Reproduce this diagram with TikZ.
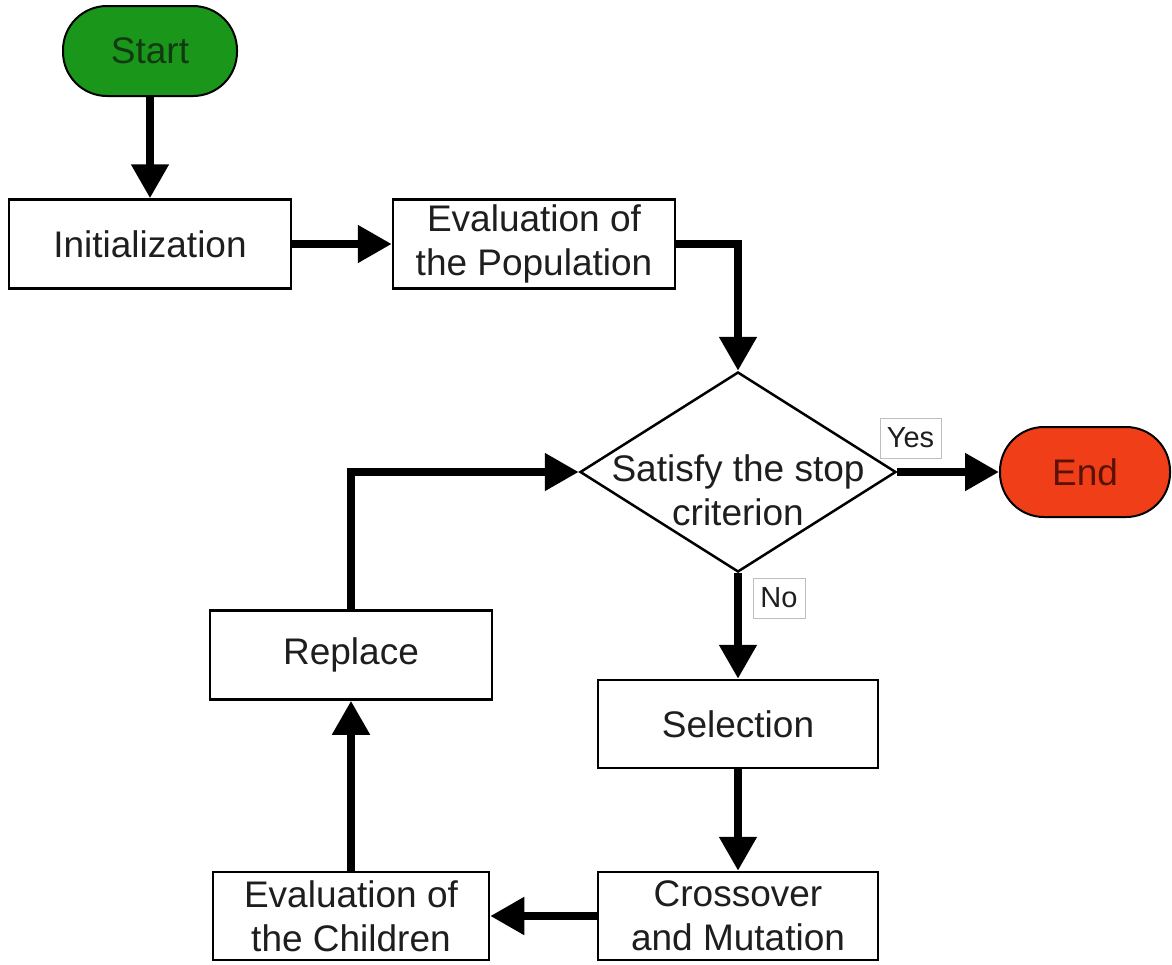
\documentclass[tikz,border=0pt]{standalone}
\usepackage{fontspec}
\setmainfont{Liberation Sans}
\usetikzlibrary{arrows.meta,shapes.geometric}
\definecolor{startgreen}{RGB}{26,150,26}
\definecolor{startink}{RGB}{18,58,18}
\definecolor{endred}{RGB}{240,62,24}
\definecolor{endink}{RGB}{90,18,6}
\definecolor{ink}{RGB}{30,30,30}
\definecolor{tagline}{RGB}{190,190,190}
\begin{document}
\begin{tikzpicture}[x=1pt,y=-1pt,
  every node/.style={font=\fontsize{37}{44}\selectfont, text=ink, align=center, inner sep=0pt},
  procbox/.style={draw=black, line width=2.5pt, fill=white, rectangle, minimum height=89pt},
  terminal/.style={draw=black, line width=2pt, rectangle, rounded corners=44pt, minimum width=174pt, minimum height=90pt},
  decision/.style={draw=black, line width=2.5pt, diamond, fill=white, minimum width=316pt, minimum height=200pt},
  tag/.style={draw=tagline, line width=1pt, fill=white, font=\fontsize{29}{34}\selectfont, minimum height=40pt},
  flow/.style={line width=8pt, -{Triangle[length=34pt,width=36pt]}}
]
\useasboundingbox[fill=white] (0,0) rectangle (1172,964);

% terminals
\node[terminal, fill=startgreen, text=startink] (start) at (150,51) {Start};
\node[terminal, fill=endred, text=endink, minimum width=170pt] (end) at (1085,472) {End};

% process steps
\node[procbox, minimum width=282pt] (init) at (150,244) {Initialization};
\node[procbox, minimum width=282pt] (evalpop) at (534,244) {Evaluation of\\the Population};
\node[decision, label={[align=center, yshift=-18pt]center:Satisfy the stop\\criterion}] (dec) at (738,472) {};
\node[procbox, minimum width=280pt, minimum height=88pt] (sel) at (738,724) {Selection};
\node[procbox, minimum width=280pt, minimum height=88pt] (cross) at (738,916) {Crossover\\and Mutation};
\node[procbox, minimum width=276pt, minimum height=88pt] (child) at (351,916) {Evaluation of\\the Children};
\node[procbox, minimum width=282pt] (repl) at (351,655) {Replace};

% branch tags
\node[tag, minimum width=61pt] (yes) at (910.5,438) {Yes};
\node[tag, minimum width=52pt] (no) at (779,598) {No};

% connectors
\draw[flow] (start.south) -- (init.north);
\draw[flow] (init.east) -- (evalpop.west);
\draw[flow] (evalpop.east) -| (dec.north);
\draw[flow] (dec.east) -- (end.west);
\draw[flow] (dec.south) -- (sel.north);
\draw[flow] (sel.south) -- (cross.north);
\draw[flow] (cross.west) -- (child.east);
\draw[flow] (child.north) -- (repl.south);
\draw[flow] (repl.north) |- (dec.west);
\end{tikzpicture}
\end{document}
